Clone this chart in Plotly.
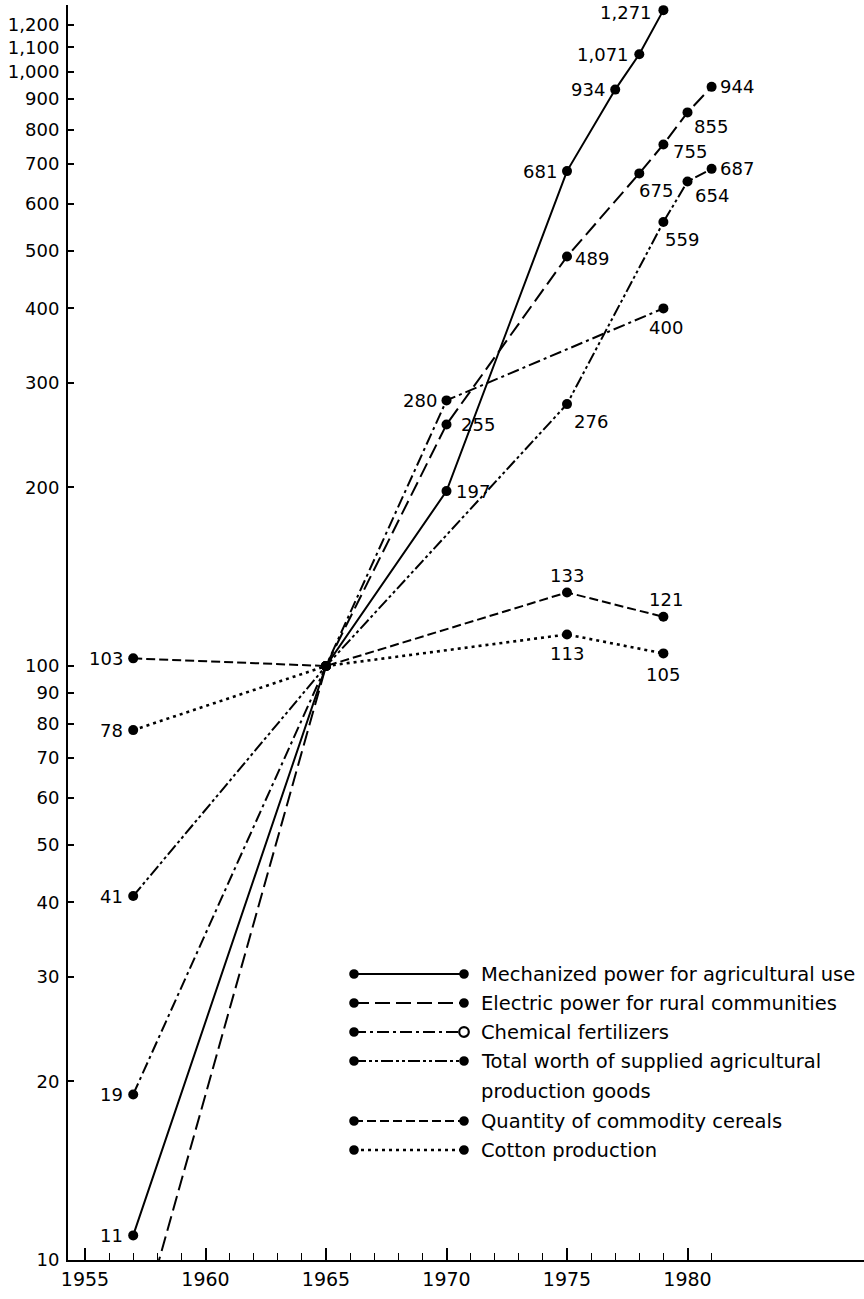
import math
import plotly.graph_objects as go

# ---------------- data ----------------
years_mech = [1957, 1965, 1970, 1975, 1977, 1978, 1979]
mech = [11, 100, 197, 681, 934, 1071, 1271]

years_elec = [1957, 1965, 1970, 1975, 1978, 1979, 1980, 1981]
elec = [7, 100, 255, 489, 675, 755, 855, 944]

years_chem = [1957, 1965, 1970, 1979]
chem = [19, 100, 280, 400]

years_total = [1957, 1965, 1975, 1979, 1980, 1981]
total = [41, 100, 276, 559, 654, 687]

years_cereal = [1957, 1965, 1975, 1979]
cereal = [103, 100, 133, 121]

years_cotton = [1957, 1965, 1975, 1979]
cotton = [78, 100, 113, 105]

series_names = [
    "Mechanized power for agricultural use",
    "Electric power for rural communities",
    "Chemical fertilizers",
    "Total worth of supplied agricultural production goods",
    "Quantity of commodity cereals",
    "Cotton production",
]

x_major = [1955, 1960, 1965, 1970, 1975, 1980]
x_minor = [y for y in range(1956, 1982) if y % 5 != 0]
y_ticks = [10, 20, 30, 40, 50, 60, 70, 80, 90, 100, 200, 300, 400, 500,
           600, 700, 800, 900, 1000, 1100, 1200]
y_ticktext = [f"{v:,}" for v in y_ticks]

# ---------------- styles ----------------
FONT = "DejaVu Sans"
W, H = 864, 1299
ML, MR, MT, MB = 68, 0, 5, 39
PW, PH = W - ML - MR, H - MT - MB

dash_styles = ["solid", "15px,6px", "12px,4px,3px,4px",
               "12px,3px,3px,3px,3px,3px", "9px,4px", "3px,4px"]
line_widths = [2, 2, 2, 2, 2, 2.6]
clip_markers = [False, True, False, False, False, False]

# label placement per point: (xanchor, yanchor, xshift, yshift) or None
L = ("right", "middle", -8, 0)
R = ("left", "middle", 7, 0)
label_pos = [
    [L, None, R, L, L, L, ("right", "middle", -9, -2)],
    [None, None, ("left", "middle", 12, 0), ("left", "middle", 6, -2),
     ("center", "middle", 17, -17), ("left", "middle", 8, -7),
     ("center", "middle", 23, -14), ("left", "middle", 6, 0)],
    [L, None, L, ("center", "middle", 3, -19)],
    [L, None, ("center", "middle", 24, -17), ("center", "middle", 19, -17),
     ("center", "middle", 24, -14), ("left", "middle", 6, 0)],
    [L, None, ("center", "middle", 0, 17), ("center", "middle", 3, 17)],
    [L, None, ("center", "middle", 0, -19), ("center", "middle", 0, -21)],
]

all_x = [years_mech, years_elec, years_chem, years_total, years_cereal, years_cotton]
all_y = [mech, elec, chem, total, cereal, cotton]

fig = go.Figure()
annotations = []
for i in range(6):
    fig.add_trace(go.Scatter(
        x=all_x[i], y=all_y[i], mode="lines+markers", name=series_names[i],
        line=dict(color="black", width=line_widths[i], dash=dash_styles[i]),
        marker=dict(color="black", size=10),
        showlegend=False, hoverinfo="x+y", cliponaxis=clip_markers[i],
    ))
    for xv, yv, pos in zip(all_x[i], all_y[i], label_pos[i]):
        if pos is None:
            continue
        xa, ya, xs, ys = pos
        annotations.append(dict(
            x=xv, y=math.log10(yv), xref="x", yref="y", text=f"{yv:,}",
            showarrow=False, xanchor=xa, yanchor=ya, xshift=xs, yshift=ys,
            font=dict(family=FONT, size=18, color="black"),
        ))

# ---------------- legend (drawn) ----------------
def px_x(px):
    return (px - ML) / PW

def px_y(py):
    return (H - MB - py) / PH

leg_rows = [974, 1003, 1032, 1061, 1121, 1150]
leg_x0, leg_x1, leg_tx = 354, 464, 479
shapes = []
for i, ry in enumerate(leg_rows):
    shapes.append(dict(type="line", xref="paper", yref="paper",
                       x0=px_x(leg_x0), x1=px_x(leg_x1), y0=px_y(ry), y1=px_y(ry),
                       line=dict(color="black", width=line_widths[i], dash=dash_styles[i])))
    for cx in (leg_x0, leg_x1):
        r = 4.8
        hollow = (i == 2 and cx == leg_x1)
        shapes.append(dict(type="circle", xref="paper", yref="paper",
                           x0=px_x(cx - r), x1=px_x(cx + r),
                           y0=px_y(ry + r), y1=px_y(ry - r),
                           fillcolor="white" if hollow else "black",
                           line=dict(color="black", width=2.2 if hollow else 0)))

leg_texts = [
    (974, "Mechanized power for agricultural use"),
    (1003, "Electric power for rural communities"),
    (1032, "Chemical fertilizers"),
    (1061, "Total worth of supplied agricultural"),
    (1091, "production goods"),
    (1121, "Quantity of commodity cereals"),
    (1150, "Cotton production"),
]
for ry, t in leg_texts:
    annotations.append(dict(
        x=px_x(leg_tx), y=px_y(ry), xref="paper", yref="paper", text=t,
        showarrow=False, xanchor="left", yanchor="middle",
        font=dict(family=FONT, size=19.5, color="black"),
    ))

# axis range: 1955 at px 85, 24.1 px / year
x_lo = 1955 - (85 - ML) / 24.1
x_hi = x_lo + PW / 24.1
y_lo = 1.0
y_hi = 1.0 + 2.0 * PH / (1260 - 72)

fig.update_layout(
    width=W, height=H,
    margin=dict(l=ML, r=MR, t=MT, b=MB, pad=0, autoexpand=False),
    paper_bgcolor="white", plot_bgcolor="white",
    font=dict(family=FONT, color="black"),
    annotations=annotations, shapes=shapes,
    xaxis=dict(
        range=[x_lo, x_hi], showgrid=False, zeroline=False, automargin=False,
        showline=True, linecolor="black", linewidth=2,
        tickmode="array", tickvals=x_major, ticktext=[str(v) for v in x_major],
        ticks="inside", ticklen=12, tickwidth=1.5, tickcolor="black",
        tickfont=dict(family=FONT, size=19, color="black"),
        ticklabelstandoff=1,
        minor=dict(tickmode="array", tickvals=x_minor, ticks="inside",
                   ticklen=7, tickwidth=1.2, tickcolor="black", showgrid=False),
    ),
    yaxis=dict(
        type="log", range=[y_lo, y_hi], showgrid=False, zeroline=False, automargin=False,
        showline=True, linecolor="black", linewidth=2,
        tickmode="array", tickvals=y_ticks, ticktext=y_ticktext,
        ticks="inside", ticklen=6, tickwidth=1.5, tickcolor="black",
        tickfont=dict(family=FONT, size=18, color="black"),
        ticklabelstandoff=3,
    ),
)

fig.write_html(
    "out.html",
    config={"displayModeBar": False},
    post_script="document.body.style.margin='0';document.body.style.overflow='hidden';",
)
